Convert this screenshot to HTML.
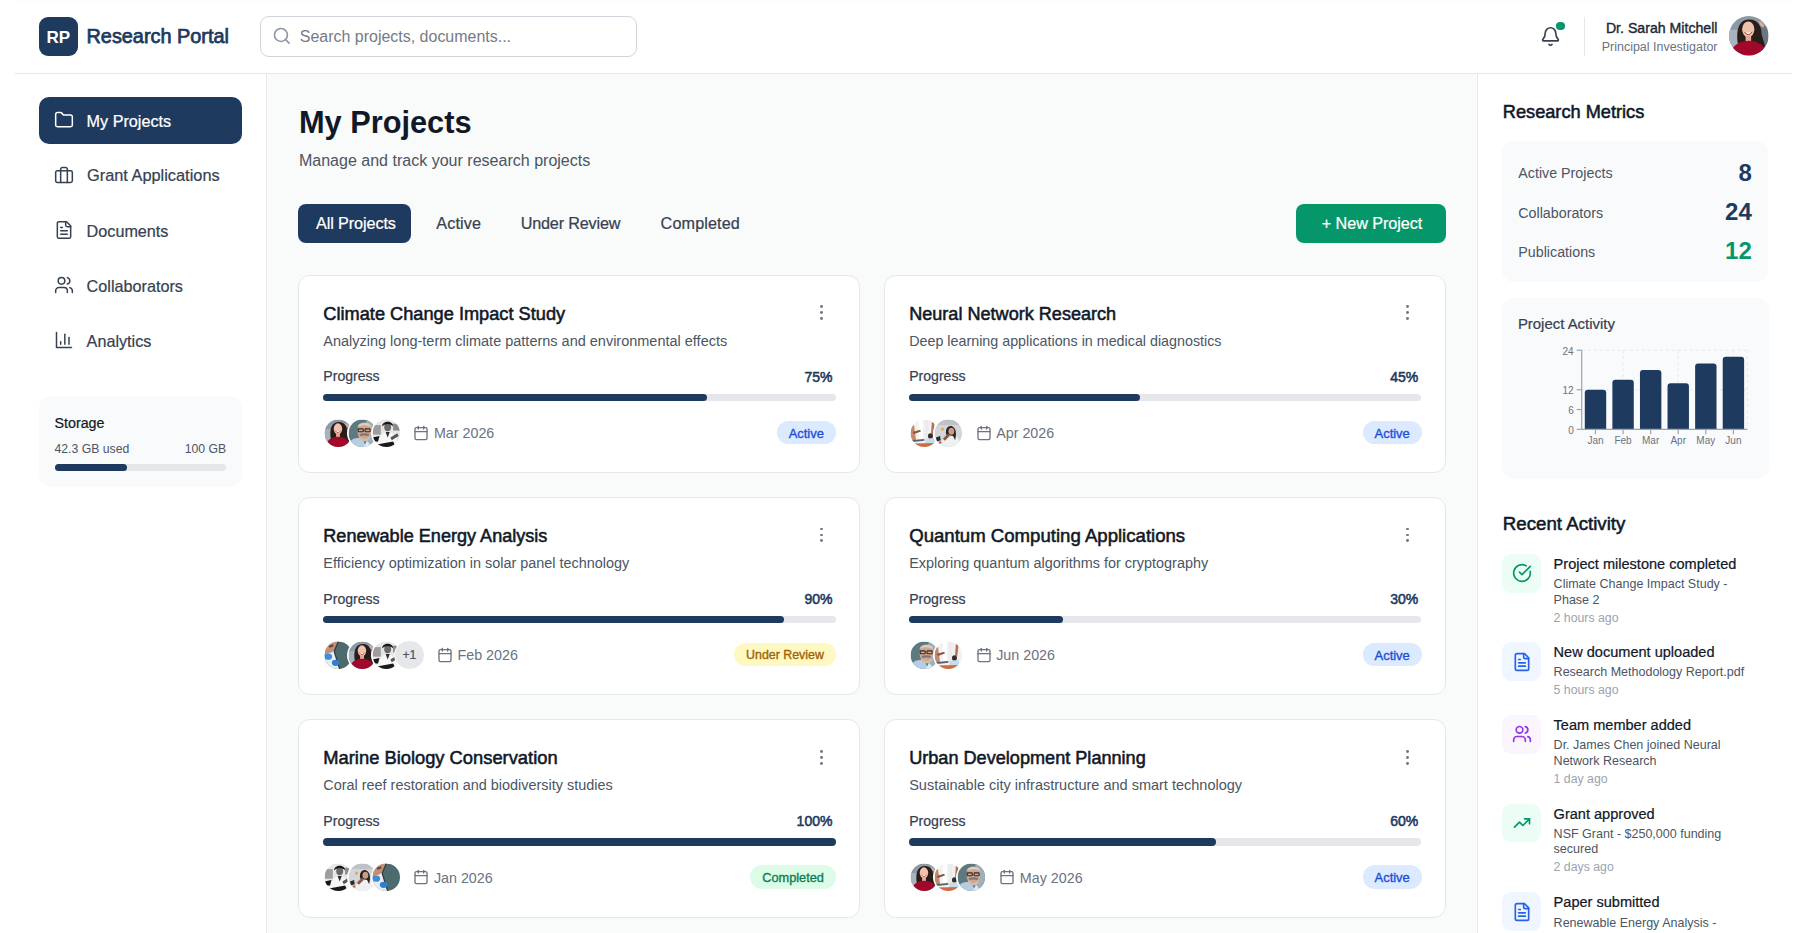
<!DOCTYPE html>
<html><head><meta charset="utf-8"><title>Research Portal</title>
<style>
html,body{margin:0;padding:0;width:1807px;height:933px;overflow:hidden;background:#fff;font-family:"Liberation Sans", sans-serif;}
.t{position:absolute;line-height:1;white-space:nowrap;font-family:"Liberation Sans", sans-serif;}
svg{overflow:visible}
</style></head><body>
<div style="position:absolute;left:267.00px;top:74.00px;width:1210.00px;height:859.00px;background:#f9fafa"></div>
<div style="position:absolute;left:15.00px;top:0.00px;width:1777.00px;height:1.00px;background-image:linear-gradient(90deg,#eef0f3 50%,transparent 50%);background-size:2px 1px;opacity:0.4"></div>
<div style="position:absolute;left:0.00px;top:73.00px;width:1807.00px;height:1.00px;"></div>
<div style="position:absolute;left:15.00px;top:73.00px;width:1777.00px;height:1.20px;background:#e5e7eb"></div>
<div style="position:absolute;left:266.00px;top:74.00px;width:1.20px;height:859.00px;background:#e5e7eb"></div>
<div style="position:absolute;left:1477.00px;top:74.00px;width:1.20px;height:859.00px;background:#e5e7eb"></div>
<div style="position:absolute;left:38.60px;top:16.70px;width:39.20px;height:39.30px;background:#1e3a5f;border-radius:9px"></div>
<div class="t" style="left:-441.80px;width:1000px;text-align:center;top:28.63px;font-size:17px;font-weight:700;color:#fff;">RP</div>
<div class="t" style="left:86.50px;top:27.21px;font-size:19.87px;font-weight:400;color:#1e3a5f;-webkit-text-stroke:0.75px #1e3a5f;">Research Portal</div>
<div style="position:absolute;left:260.00px;top:16.00px;width:377.00px;height:40.50px;border:1.2px solid #d1d5db;border-radius:9px;box-sizing:border-box;background:#fff"></div>
<svg style="position:absolute;left:271.6px;top:26.4px" width="19.5" height="19.5" viewBox="0 0 24 24" fill="none" stroke="#8d96a6" stroke-width="2" stroke-linecap="round"><circle cx="11" cy="11" r="8"/><path d="m21 21-4.3-4.3"/></svg>
<div class="t" style="left:299.80px;top:29.00px;font-size:15.98px;font-weight:400;color:#757b86;">Search projects, documents...</div>
<svg style="position:absolute;left:1540px;top:25.5px" width="21" height="21" viewBox="0 0 24 24" fill="none" stroke="#374151" stroke-width="1.9" stroke-linecap="round" stroke-linejoin="round"><path d="M10.268 21a2 2 0 0 0 3.464 0"/><path d="M3.262 15.326A1 1 0 0 0 4 17h16a1 1 0 0 0 .74-1.673C19.410 13.956 18 12.499 18 8A6 6 0 0 0 6 8c0 4.499-1.411 5.956-2.738 7.326"/></svg>
<div style="position:absolute;left:1556.40px;top:21.90px;width:8.20px;height:8.20px;background:#059669;border-radius:50%"></div>
<div style="position:absolute;left:1584.00px;top:17.00px;width:1.20px;height:38.60px;background:#e5e7eb"></div>
<div class="t" style="right:89.50px;top:21.44px;font-size:14.15px;font-weight:400;color:#1f2937;-webkit-text-stroke:0.4px #1f2937;">Dr. Sarah Mitchell</div>
<div class="t" style="right:89.50px;top:40.55px;font-size:12.48px;font-weight:400;color:#6b7280;">Principal Investigator</div>
<svg style="position:absolute;left:1728.95px;top:16.25px" width="39.50" height="39.50" viewBox="0.000 0.000 40.000 40.000"><clipPath id="av1"><circle cx="20" cy="20" r="20"/></clipPath><g clip-path="url(#av1)"><rect width="40" height="40" fill="#8e99a6"/><rect x="0" y="14" width="10" height="20" fill="#a9b3be"/><rect x="30" y="10" width="10" height="22" fill="#6b7582"/><path d="M9 28 C7 14 10 4 20 3.5 C29 3 33 10 33 18 C34 24 37 28 36 32 L28 30 L12 30Z" fill="#2a1d19"/><path d="M30 5 C34 6 36 9 35 12 L32 10Z" fill="#d8b09c"/><ellipse cx="19.5" cy="13.5" rx="6.2" ry="8" fill="#eec3ad"/><path d="M15.8 16.3 Q19.5 21 23.2 16.3 Q19.5 17.6 15.8 16.3Z" fill="#fff"/><path d="M15.5 16 Q19.5 22 23.5 16" fill="none" stroke="#a8343e" stroke-width="1"/><rect x="16.8" y="20" width="5.6" height="6" fill="#e3ab93"/><path d="M1 42 C2 31 8 25.5 19.5 25 C31 25.5 37 30 39 42Z" fill="#a1082a"/></g></svg>
<div style="position:absolute;left:38.50px;top:97.30px;width:203.30px;height:47.00px;background:#1e3a5f;border-radius:10px"></div>
<svg style="position:absolute;left:53.50px;top:110.00px" width="20" height="20" viewBox="0 0 24 24" fill="none" stroke="#fff" stroke-width="1.8" stroke-linecap="round" stroke-linejoin="round"><path d="M20 20a2 2 0 0 0 2-2V8a2 2 0 0 0-2-2h-7.9a2 2 0 0 1-1.69-.9L9.6 3.9A2 2 0 0 0 7.93 3H4a2 2 0 0 0-2 2v13a2 2 0 0 0 2 2Z"/></svg>
<div class="t" style="left:86.60px;top:112.81px;font-size:16.2px;font-weight:400;color:#fff;-webkit-text-stroke:0.22px #fff;">My Projects</div>
<svg style="position:absolute;left:53.50px;top:164.60px" width="20" height="20" viewBox="0 0 24 24" fill="none" stroke="#374151" stroke-width="1.8" stroke-linecap="round" stroke-linejoin="round"><rect x="2" y="7" width="20" height="14" rx="2"/><path d="M16 21V5a2 2 0 0 0-2-2h-4a2 2 0 0 0-2 2v16"/></svg>
<div class="t" style="left:87.00px;top:167.28px;font-size:16.35px;font-weight:400;color:#374151;-webkit-text-stroke:0.22px #374151;">Grant Applications</div>
<svg style="position:absolute;left:53.50px;top:220.00px" width="20" height="20" viewBox="0 0 24 24" fill="none" stroke="#374151" stroke-width="1.8" stroke-linecap="round" stroke-linejoin="round"><path d="M15 2H6a2 2 0 0 0-2 2v16a2 2 0 0 0 2 2h12a2 2 0 0 0 2-2V7Z"/><path d="M14 2v4a2 2 0 0 0 2 2h4"/><path d="M10 9H8"/><path d="M16 13H8"/><path d="M16 17H8"/></svg>
<div class="t" style="left:86.60px;top:222.81px;font-size:16.2px;font-weight:400;color:#374151;-webkit-text-stroke:0.22px #374151;">Documents</div>
<svg style="position:absolute;left:53.50px;top:275.20px" width="20" height="20" viewBox="0 0 24 24" fill="none" stroke="#374151" stroke-width="1.8" stroke-linecap="round" stroke-linejoin="round"><path d="M16 21v-2a4 4 0 0 0-4-4H6a4 4 0 0 0-4 4v2"/><circle cx="9" cy="7" r="4"/><path d="M22 21v-2a4 4 0 0 0-3-3.87"/><path d="M16 3.13a4 4 0 0 1 0 7.75"/></svg>
<div class="t" style="left:86.60px;top:278.01px;font-size:16.2px;font-weight:400;color:#374151;-webkit-text-stroke:0.22px #374151;">Collaborators</div>
<svg style="position:absolute;left:53.50px;top:330.20px" width="20" height="20" viewBox="0 0 24 24" fill="none" stroke="#374151" stroke-width="1.8" stroke-linecap="round" stroke-linejoin="round"><path d="M3 3v18h18"/><path d="M18 17V9"/><path d="M13 17V5"/><path d="M8 17v-3"/></svg>
<div class="t" style="left:86.60px;top:333.01px;font-size:16.2px;font-weight:400;color:#374151;-webkit-text-stroke:0.22px #374151;">Analytics</div>
<div style="position:absolute;left:39.20px;top:396.10px;width:202.70px;height:90.70px;background:#f9fafb;border-radius:12px"></div>
<div class="t" style="left:54.50px;top:416.13px;font-size:14.28px;font-weight:400;color:#111827;-webkit-text-stroke:0.22px #111827;">Storage</div>
<div class="t" style="left:54.50px;top:442.67px;font-size:12.23px;font-weight:400;color:#4b5563;">42.3 GB used</div>
<div class="t" style="right:1580.90px;top:442.67px;font-size:12.23px;font-weight:400;color:#4b5563;">100 GB</div>
<div style="position:absolute;left:54.50px;top:463.80px;width:171.60px;height:7.20px;background:#e5e7eb;border-radius:4px"></div>
<div style="position:absolute;left:54.50px;top:463.80px;width:72.60px;height:7.20px;background:#1e3a5f;border-radius:4px"></div>
<div class="t" style="left:298.90px;top:108.22px;font-size:30.75px;font-weight:700;color:#111827;">My Projects</div>
<div class="t" style="left:298.90px;top:151.94px;font-size:16.05px;font-weight:400;color:#4b5563;">Manage and track your research projects</div>
<div style="position:absolute;left:298.30px;top:203.60px;width:113.20px;height:39.00px;background:#1e3a5f;border-radius:8px"></div>
<div class="t" style="left:316.00px;top:214.91px;font-size:16.2px;font-weight:400;color:#fff;-webkit-text-stroke:0.22px #fff;letter-spacing:-0.094px">All Projects</div>
<div class="t" style="left:436.20px;top:214.91px;font-size:16.2px;font-weight:400;color:#374151;-webkit-text-stroke:0.22px #374151;letter-spacing:0.15px">Active</div>
<div class="t" style="left:520.70px;top:214.91px;font-size:16.2px;font-weight:400;color:#374151;-webkit-text-stroke:0.22px #374151;letter-spacing:-0.175px">Under Review</div>
<div class="t" style="left:660.60px;top:214.91px;font-size:16.2px;font-weight:400;color:#374151;-webkit-text-stroke:0.22px #374151;letter-spacing:0.12px">Completed</div>
<div style="position:absolute;left:1296.40px;top:203.60px;width:149.20px;height:39.00px;background:#059669;border-radius:8px"></div>
<div class="t" style="left:1321.70px;top:214.91px;font-size:16.2px;font-weight:400;color:#fff;-webkit-text-stroke:0.22px #fff;letter-spacing:-0.05px">+ New Project</div>
<div style="position:absolute;left:298.40px;top:274.60px;width:561.50px;height:198.60px;background:#fff;border:1.2px solid #e5e7eb;border-radius:12px;box-sizing:border-box"></div>
<div class="t" style="left:323.30px;top:304.60px;font-size:18.22px;font-weight:400;color:#111827;-webkit-text-stroke:0.55px #111827;">Climate Change Impact Study</div>
<div style="position:absolute;left:820.25px;top:305.25px;width:2.90px;height:2.90px;background:#727987;border-radius:50%"></div>
<div style="position:absolute;left:820.25px;top:311.25px;width:2.90px;height:2.90px;background:#727987;border-radius:50%"></div>
<div style="position:absolute;left:820.25px;top:317.05px;width:2.90px;height:2.90px;background:#727987;border-radius:50%"></div>
<div class="t" style="left:323.30px;top:333.56px;font-size:14.49px;font-weight:400;color:#4b5563;">Analyzing long-term climate patterns and environmental effects</div>
<div class="t" style="left:323.30px;top:369.29px;font-size:14.09px;font-weight:400;color:#374151;-webkit-text-stroke:0.22px #374151;">Progress</div>
<div class="t" style="right:974.60px;top:369.67px;font-size:14.0px;font-weight:400;color:#1e3a5f;-webkit-text-stroke:0.55px #1e3a5f;">75%</div>
<div style="position:absolute;left:322.90px;top:393.50px;width:512.70px;height:7.50px;background:#e5e7eb;border-radius:4px"></div>
<div style="position:absolute;left:322.90px;top:393.50px;width:384.52px;height:7.50px;background:#1e3a5f;border-radius:4px"></div>
<svg style="position:absolute;left:323.30px;top:417.50px" width="30.60" height="30.60" viewBox="-2.336 -2.336 44.672 44.672"><circle cx="20" cy="20" r="22.336" fill="#fff"/><clipPath id="av2"><circle cx="20" cy="20" r="20"/></clipPath><g clip-path="url(#av2)"><rect width="40" height="40" fill="#8e99a6"/><rect x="0" y="14" width="10" height="20" fill="#a9b3be"/><rect x="30" y="10" width="10" height="22" fill="#6b7582"/><path d="M9 28 C7 14 10 4 20 3.5 C29 3 33 10 33 18 C34 24 37 28 36 32 L28 30 L12 30Z" fill="#2a1d19"/><path d="M30 5 C34 6 36 9 35 12 L32 10Z" fill="#d8b09c"/><ellipse cx="19.5" cy="13.5" rx="6.2" ry="8" fill="#eec3ad"/><path d="M15.8 16.3 Q19.5 21 23.2 16.3 Q19.5 17.6 15.8 16.3Z" fill="#fff"/><path d="M15.5 16 Q19.5 22 23.5 16" fill="none" stroke="#a8343e" stroke-width="1"/><rect x="16.8" y="20" width="5.6" height="6" fill="#e3ab93"/><path d="M1 42 C2 31 8 25.5 19.5 25 C31 25.5 37 30 39 42Z" fill="#a1082a"/></g></svg>
<svg style="position:absolute;left:346.90px;top:417.50px" width="30.60" height="30.60" viewBox="-2.336 -2.336 44.672 44.672"><circle cx="20" cy="20" r="22.336" fill="#fff"/><clipPath id="av3"><circle cx="20" cy="20" r="20"/></clipPath><g clip-path="url(#av3)"><rect width="40" height="40" fill="#5c7a7f"/><rect x="26" y="0" width="14" height="40" fill="#9fb0b6"/><path d="M0 40 L4 30 C8 27 14 26 20 28 L26 40Z" fill="#b7cde3"/><ellipse cx="23" cy="17" rx="10" ry="12.5" fill="#d2a58e"/><path d="M13 12 C13 2 33 2 33 12 C31 7 15 7 13 12Z" fill="#e3cbbd"/><rect x="14" y="13.5" width="7.5" height="4.2" rx="1.2" fill="none" stroke="#2b2b2b" stroke-width="1.6"/><rect x="24" y="13.5" width="7.5" height="4.2" rx="1.2" fill="none" stroke="#2b2b2b" stroke-width="1.6"/><path d="M16 21 Q23 19 30 21 L29 24 Q23 22.5 17 24Z" fill="#7d7873"/><path d="M15 24 Q23 33 31 24 L31 28 Q23 36 15 28Z" fill="#cbbfb5"/><path d="M22 40 L27 31 L34 40Z" fill="#dfe9f2"/></g></svg>
<svg style="position:absolute;left:370.50px;top:417.50px" width="30.60" height="30.60" viewBox="-2.336 -2.336 44.672 44.672"><circle cx="20" cy="20" r="22.336" fill="#fff"/><clipPath id="av4"><circle cx="20" cy="20" r="20"/></clipPath><g clip-path="url(#av4)"><rect width="40" height="40" fill="#e6e6e6"/><rect x="0" y="8" width="12" height="14" fill="#9d9d9d"/><rect x="30" y="6" width="10" height="10" fill="#8a8a8a"/><path d="M6 40 C8 26 14 18 22 18 C30 18 36 26 38 40Z" fill="#f7f7f7"/><ellipse cx="22" cy="11" rx="5" ry="6" fill="#6a6a6a"/><path d="M14 10 C14 1 30 1 30 10 C27 5 17 5 14 10Z" fill="#161616"/><path d="M19 18 L22 26 L25 18Z" fill="#2a2a2a"/><path d="M0 26 L10 24 L8 32 L0 32Z" fill="#151515"/><path d="M8 36 L30 32 L34 40 L6 40Z" fill="#1a1a1a"/><path d="M26 26 L36 20 L38 24 L28 30Z" fill="#555"/></g></svg>
<svg style="position:absolute;left:413.40px;top:424.80px" width="16" height="16" viewBox="0 0 24 24" fill="none" stroke="#6b7280" stroke-width="2" stroke-linecap="round" stroke-linejoin="round"><rect x="3" y="4" width="18" height="18" rx="2"/><path d="M16 2v4"/><path d="M8 2v4"/><path d="M3 10h18"/></svg>
<div class="t" style="left:433.90px;top:426.17px;font-size:14.3px;font-weight:400;color:#6b7280;">Mar 2026</div>
<div class="t" style="right:971.30px;top:420.60px;height:23.4px;line-height:25px;padding:0 11.8px;border-radius:12px;background:#dbeafe;font-size:12.96px;color:#1d4ed8;-webkit-text-stroke:0.35px #1d4ed8">Active</div>
<div style="position:absolute;left:884.30px;top:274.60px;width:561.50px;height:198.60px;background:#fff;border:1.2px solid #e5e7eb;border-radius:12px;box-sizing:border-box"></div>
<div class="t" style="left:909.20px;top:304.72px;font-size:18.08px;font-weight:400;color:#111827;-webkit-text-stroke:0.55px #111827;">Neural Network Research</div>
<div style="position:absolute;left:1406.15px;top:305.25px;width:2.90px;height:2.90px;background:#727987;border-radius:50%"></div>
<div style="position:absolute;left:1406.15px;top:311.25px;width:2.90px;height:2.90px;background:#727987;border-radius:50%"></div>
<div style="position:absolute;left:1406.15px;top:317.05px;width:2.90px;height:2.90px;background:#727987;border-radius:50%"></div>
<div class="t" style="left:909.20px;top:333.72px;font-size:14.3px;font-weight:400;color:#4b5563;">Deep learning applications in medical diagnostics</div>
<div class="t" style="left:909.20px;top:369.29px;font-size:14.09px;font-weight:400;color:#374151;-webkit-text-stroke:0.22px #374151;">Progress</div>
<div class="t" style="right:388.70px;top:369.67px;font-size:14.0px;font-weight:400;color:#1e3a5f;-webkit-text-stroke:0.55px #1e3a5f;">45%</div>
<div style="position:absolute;left:908.80px;top:393.50px;width:512.70px;height:7.50px;background:#e5e7eb;border-radius:4px"></div>
<div style="position:absolute;left:908.80px;top:393.50px;width:230.72px;height:7.50px;background:#1e3a5f;border-radius:4px"></div>
<svg style="position:absolute;left:909.20px;top:417.50px" width="30.60" height="30.60" viewBox="-2.336 -2.336 44.672 44.672"><circle cx="20" cy="20" r="22.336" fill="#fff"/><clipPath id="av5"><circle cx="20" cy="20" r="20"/></clipPath><g clip-path="url(#av5)"><rect width="40" height="40" fill="#f3f1ef"/><rect x="12" y="0" width="6" height="28" fill="#ffffff"/><rect x="21" y="0" width="5" height="28" fill="#e9ecef"/><path d="M0 10 L5 8 L8 30 L0 32Z" fill="#c08a70"/><path d="M31 3 L35 5 L33 22 L30 20Z" fill="#b07256"/><path d="M3 18 L14 15 L15 17.5 L5 21Z" fill="#8a5444"/><ellipse cx="29" cy="24" rx="3.6" ry="4.2" fill="#3a2a24"/><path d="M22 28 L35 27 L37 36 L21 36Z" fill="#c4dcec"/><path d="M0 30 L20 28.5 L20 31 L0 33Z" fill="#56626e"/><path d="M0 35 L40 34 L40 40 L0 40Z" fill="#cf6a44"/></g></svg>
<svg style="position:absolute;left:932.80px;top:417.50px" width="30.60" height="30.60" viewBox="-2.336 -2.336 44.672 44.672"><circle cx="20" cy="20" r="22.336" fill="#fff"/><clipPath id="av6"><circle cx="20" cy="20" r="20"/></clipPath><g clip-path="url(#av6)"><rect width="40" height="40" fill="#d3d6d9"/><rect x="0" y="0" width="40" height="8" fill="#bfc2c5"/><path d="M8 40 C10 28 16 22 24 22 C32 22 37 28 38 40Z" fill="#eef0f2"/><path d="M17 22 C15 12 21 8 26 10 C32 13 32 22 30 30 L27 24Z" fill="#2a221e"/><ellipse cx="24.5" cy="17" rx="4.2" ry="5.2" fill="#c99d86"/><path d="M12 28 L20 20 L22 24 L15 31Z" fill="#8a5a48"/><rect x="10" y="12" width="3" height="4" fill="#e39a3a"/><path d="M2 26 L8 24 L9 30 L3 32Z" fill="#2b2b2b"/><rect x="6" y="32" width="4" height="3" fill="#d0643a"/></g></svg>
<svg style="position:absolute;left:975.70px;top:424.80px" width="16" height="16" viewBox="0 0 24 24" fill="none" stroke="#6b7280" stroke-width="2" stroke-linecap="round" stroke-linejoin="round"><rect x="3" y="4" width="18" height="18" rx="2"/><path d="M16 2v4"/><path d="M8 2v4"/><path d="M3 10h18"/></svg>
<div class="t" style="left:996.20px;top:426.17px;font-size:14.3px;font-weight:400;color:#6b7280;">Apr 2026</div>
<div class="t" style="right:385.40px;top:420.60px;height:23.4px;line-height:25px;padding:0 11.8px;border-radius:12px;background:#dbeafe;font-size:12.96px;color:#1d4ed8;-webkit-text-stroke:0.35px #1d4ed8">Active</div>
<div style="position:absolute;left:298.40px;top:496.90px;width:561.50px;height:198.60px;background:#fff;border:1.2px solid #e5e7eb;border-radius:12px;box-sizing:border-box"></div>
<div class="t" style="left:323.30px;top:527.01px;font-size:18.09px;font-weight:400;color:#111827;-webkit-text-stroke:0.55px #111827;">Renewable Energy Analysis</div>
<div style="position:absolute;left:820.25px;top:527.55px;width:2.90px;height:2.90px;background:#727987;border-radius:50%"></div>
<div style="position:absolute;left:820.25px;top:533.55px;width:2.90px;height:2.90px;background:#727987;border-radius:50%"></div>
<div style="position:absolute;left:820.25px;top:539.35px;width:2.90px;height:2.90px;background:#727987;border-radius:50%"></div>
<div class="t" style="left:323.30px;top:555.91px;font-size:14.43px;font-weight:400;color:#4b5563;">Efficiency optimization in solar panel technology</div>
<div class="t" style="left:323.30px;top:591.59px;font-size:14.09px;font-weight:400;color:#374151;-webkit-text-stroke:0.22px #374151;">Progress</div>
<div class="t" style="right:974.60px;top:591.97px;font-size:14.0px;font-weight:400;color:#1e3a5f;-webkit-text-stroke:0.55px #1e3a5f;">90%</div>
<div style="position:absolute;left:322.90px;top:615.80px;width:512.70px;height:7.50px;background:#e5e7eb;border-radius:4px"></div>
<div style="position:absolute;left:322.90px;top:615.80px;width:461.43px;height:7.50px;background:#1e3a5f;border-radius:4px"></div>
<svg style="position:absolute;left:323.30px;top:639.80px" width="30.60" height="30.60" viewBox="-2.336 -2.336 44.672 44.672"><circle cx="20" cy="20" r="22.336" fill="#fff"/><clipPath id="av7"><circle cx="20" cy="20" r="20"/></clipPath><g clip-path="url(#av7)"><rect width="40" height="40" fill="#4d6a6d"/><path d="M0 0 L20 0 L14 14 L22 40 L0 40Z" fill="#e8eef2"/><path d="M0 0 L20 0 L16 10 C12 16 6 18 0 18Z" fill="#c48f74"/><path d="M6 6 L12 4 L13 7 L7 9Z" fill="#5a4a40"/><path d="M19 0 L21 0 L15 14 L23 40 L21 40 L13 14Z" fill="#2c3e48"/><ellipse cx="5" cy="22" rx="6" ry="4.5" fill="#3c8ed8"/><ellipse cx="16" cy="31" rx="5.5" ry="4.5" fill="#2f80cf"/></g></svg>
<svg style="position:absolute;left:346.90px;top:639.80px" width="30.60" height="30.60" viewBox="-2.336 -2.336 44.672 44.672"><circle cx="20" cy="20" r="22.336" fill="#fff"/><clipPath id="av8"><circle cx="20" cy="20" r="20"/></clipPath><g clip-path="url(#av8)"><rect width="40" height="40" fill="#8e99a6"/><rect x="0" y="14" width="10" height="20" fill="#a9b3be"/><rect x="30" y="10" width="10" height="22" fill="#6b7582"/><path d="M9 28 C7 14 10 4 20 3.5 C29 3 33 10 33 18 C34 24 37 28 36 32 L28 30 L12 30Z" fill="#2a1d19"/><path d="M30 5 C34 6 36 9 35 12 L32 10Z" fill="#d8b09c"/><ellipse cx="19.5" cy="13.5" rx="6.2" ry="8" fill="#eec3ad"/><path d="M15.8 16.3 Q19.5 21 23.2 16.3 Q19.5 17.6 15.8 16.3Z" fill="#fff"/><path d="M15.5 16 Q19.5 22 23.5 16" fill="none" stroke="#a8343e" stroke-width="1"/><rect x="16.8" y="20" width="5.6" height="6" fill="#e3ab93"/><path d="M1 42 C2 31 8 25.5 19.5 25 C31 25.5 37 30 39 42Z" fill="#a1082a"/></g></svg>
<svg style="position:absolute;left:370.50px;top:639.80px" width="30.60" height="30.60" viewBox="-2.336 -2.336 44.672 44.672"><circle cx="20" cy="20" r="22.336" fill="#fff"/><clipPath id="av9"><circle cx="20" cy="20" r="20"/></clipPath><g clip-path="url(#av9)"><rect width="40" height="40" fill="#e6e6e6"/><rect x="0" y="8" width="12" height="14" fill="#9d9d9d"/><rect x="30" y="6" width="10" height="10" fill="#8a8a8a"/><path d="M6 40 C8 26 14 18 22 18 C30 18 36 26 38 40Z" fill="#f7f7f7"/><ellipse cx="22" cy="11" rx="5" ry="6" fill="#6a6a6a"/><path d="M14 10 C14 1 30 1 30 10 C27 5 17 5 14 10Z" fill="#161616"/><path d="M19 18 L22 26 L25 18Z" fill="#2a2a2a"/><path d="M0 26 L10 24 L8 32 L0 32Z" fill="#151515"/><path d="M8 36 L30 32 L34 40 L6 40Z" fill="#1a1a1a"/><path d="M26 26 L36 20 L38 24 L28 30Z" fill="#555"/></g></svg>
<div style="position:absolute;left:394.10px;top:639.80px;width:30.60px;height:30.60px;background:#e5e7eb;border-radius:50%;border:1.6px solid #fff;box-sizing:border-box"></div>
<div class="t" style="left:-90.60px;width:1000px;text-align:center;top:649.19px;font-size:12.2px;font-weight:400;color:#4b5563;-webkit-text-stroke:0.22px #4b5563;">+1</div>
<svg style="position:absolute;left:437.00px;top:647.10px" width="16" height="16" viewBox="0 0 24 24" fill="none" stroke="#6b7280" stroke-width="2" stroke-linecap="round" stroke-linejoin="round"><rect x="3" y="4" width="18" height="18" rx="2"/><path d="M16 2v4"/><path d="M8 2v4"/><path d="M3 10h18"/></svg>
<div class="t" style="left:457.50px;top:648.47px;font-size:14.3px;font-weight:400;color:#6b7280;">Feb 2026</div>
<div class="t" style="right:971.30px;top:642.90px;height:23.4px;line-height:25px;padding:0 11.8px;border-radius:12px;background:#fef9c3;font-size:12.4px;color:#a16207;-webkit-text-stroke:0.35px #a16207">Under Review</div>
<div style="position:absolute;left:884.30px;top:496.90px;width:561.50px;height:198.60px;background:#fff;border:1.2px solid #e5e7eb;border-radius:12px;box-sizing:border-box"></div>
<div class="t" style="left:909.20px;top:526.58px;font-size:18.6px;font-weight:400;color:#111827;-webkit-text-stroke:0.55px #111827;">Quantum Computing Applications</div>
<div style="position:absolute;left:1406.15px;top:527.55px;width:2.90px;height:2.90px;background:#727987;border-radius:50%"></div>
<div style="position:absolute;left:1406.15px;top:533.55px;width:2.90px;height:2.90px;background:#727987;border-radius:50%"></div>
<div style="position:absolute;left:1406.15px;top:539.35px;width:2.90px;height:2.90px;background:#727987;border-radius:50%"></div>
<div class="t" style="left:909.20px;top:555.91px;font-size:14.43px;font-weight:400;color:#4b5563;">Exploring quantum algorithms for cryptography</div>
<div class="t" style="left:909.20px;top:591.59px;font-size:14.09px;font-weight:400;color:#374151;-webkit-text-stroke:0.22px #374151;">Progress</div>
<div class="t" style="right:388.70px;top:591.97px;font-size:14.0px;font-weight:400;color:#1e3a5f;-webkit-text-stroke:0.55px #1e3a5f;">30%</div>
<div style="position:absolute;left:908.80px;top:615.80px;width:512.70px;height:7.50px;background:#e5e7eb;border-radius:4px"></div>
<div style="position:absolute;left:908.80px;top:615.80px;width:153.81px;height:7.50px;background:#1e3a5f;border-radius:4px"></div>
<svg style="position:absolute;left:909.20px;top:639.80px" width="30.60" height="30.60" viewBox="-2.336 -2.336 44.672 44.672"><circle cx="20" cy="20" r="22.336" fill="#fff"/><clipPath id="av10"><circle cx="20" cy="20" r="20"/></clipPath><g clip-path="url(#av10)"><rect width="40" height="40" fill="#5c7a7f"/><rect x="26" y="0" width="14" height="40" fill="#9fb0b6"/><path d="M0 40 L4 30 C8 27 14 26 20 28 L26 40Z" fill="#b7cde3"/><ellipse cx="23" cy="17" rx="10" ry="12.5" fill="#d2a58e"/><path d="M13 12 C13 2 33 2 33 12 C31 7 15 7 13 12Z" fill="#e3cbbd"/><rect x="14" y="13.5" width="7.5" height="4.2" rx="1.2" fill="none" stroke="#2b2b2b" stroke-width="1.6"/><rect x="24" y="13.5" width="7.5" height="4.2" rx="1.2" fill="none" stroke="#2b2b2b" stroke-width="1.6"/><path d="M16 21 Q23 19 30 21 L29 24 Q23 22.5 17 24Z" fill="#7d7873"/><path d="M15 24 Q23 33 31 24 L31 28 Q23 36 15 28Z" fill="#cbbfb5"/><path d="M22 40 L27 31 L34 40Z" fill="#dfe9f2"/></g></svg>
<svg style="position:absolute;left:932.80px;top:639.80px" width="30.60" height="30.60" viewBox="-2.336 -2.336 44.672 44.672"><circle cx="20" cy="20" r="22.336" fill="#fff"/><clipPath id="av11"><circle cx="20" cy="20" r="20"/></clipPath><g clip-path="url(#av11)"><rect width="40" height="40" fill="#f3f1ef"/><rect x="12" y="0" width="6" height="28" fill="#ffffff"/><rect x="21" y="0" width="5" height="28" fill="#e9ecef"/><path d="M0 10 L5 8 L8 30 L0 32Z" fill="#c08a70"/><path d="M31 3 L35 5 L33 22 L30 20Z" fill="#b07256"/><path d="M3 18 L14 15 L15 17.5 L5 21Z" fill="#8a5444"/><ellipse cx="29" cy="24" rx="3.6" ry="4.2" fill="#3a2a24"/><path d="M22 28 L35 27 L37 36 L21 36Z" fill="#c4dcec"/><path d="M0 30 L20 28.5 L20 31 L0 33Z" fill="#56626e"/><path d="M0 35 L40 34 L40 40 L0 40Z" fill="#cf6a44"/></g></svg>
<svg style="position:absolute;left:975.70px;top:647.10px" width="16" height="16" viewBox="0 0 24 24" fill="none" stroke="#6b7280" stroke-width="2" stroke-linecap="round" stroke-linejoin="round"><rect x="3" y="4" width="18" height="18" rx="2"/><path d="M16 2v4"/><path d="M8 2v4"/><path d="M3 10h18"/></svg>
<div class="t" style="left:996.20px;top:648.47px;font-size:14.3px;font-weight:400;color:#6b7280;">Jun 2026</div>
<div class="t" style="right:385.40px;top:642.90px;height:23.4px;line-height:25px;padding:0 11.8px;border-radius:12px;background:#dbeafe;font-size:12.96px;color:#1d4ed8;-webkit-text-stroke:0.35px #1d4ed8">Active</div>
<div style="position:absolute;left:298.40px;top:719.20px;width:561.50px;height:198.60px;background:#fff;border:1.2px solid #e5e7eb;border-radius:12px;box-sizing:border-box"></div>
<div class="t" style="left:323.30px;top:749.11px;font-size:18.33px;font-weight:400;color:#111827;-webkit-text-stroke:0.55px #111827;">Marine Biology Conservation</div>
<div style="position:absolute;left:820.25px;top:749.85px;width:2.90px;height:2.90px;background:#727987;border-radius:50%"></div>
<div style="position:absolute;left:820.25px;top:755.85px;width:2.90px;height:2.90px;background:#727987;border-radius:50%"></div>
<div style="position:absolute;left:820.25px;top:761.65px;width:2.90px;height:2.90px;background:#727987;border-radius:50%"></div>
<div class="t" style="left:323.30px;top:778.21px;font-size:14.43px;font-weight:400;color:#4b5563;">Coral reef restoration and biodiversity studies</div>
<div class="t" style="left:323.30px;top:813.89px;font-size:14.09px;font-weight:400;color:#374151;-webkit-text-stroke:0.22px #374151;">Progress</div>
<div class="t" style="right:974.60px;top:814.27px;font-size:14.0px;font-weight:400;color:#1e3a5f;-webkit-text-stroke:0.55px #1e3a5f;">100%</div>
<div style="position:absolute;left:322.90px;top:838.10px;width:512.70px;height:7.50px;background:#e5e7eb;border-radius:4px"></div>
<div style="position:absolute;left:322.90px;top:838.10px;width:512.70px;height:7.50px;background:#1e3a5f;border-radius:4px"></div>
<svg style="position:absolute;left:323.30px;top:862.10px" width="30.60" height="30.60" viewBox="-2.336 -2.336 44.672 44.672"><circle cx="20" cy="20" r="22.336" fill="#fff"/><clipPath id="av12"><circle cx="20" cy="20" r="20"/></clipPath><g clip-path="url(#av12)"><rect width="40" height="40" fill="#e6e6e6"/><rect x="0" y="8" width="12" height="14" fill="#9d9d9d"/><rect x="30" y="6" width="10" height="10" fill="#8a8a8a"/><path d="M6 40 C8 26 14 18 22 18 C30 18 36 26 38 40Z" fill="#f7f7f7"/><ellipse cx="22" cy="11" rx="5" ry="6" fill="#6a6a6a"/><path d="M14 10 C14 1 30 1 30 10 C27 5 17 5 14 10Z" fill="#161616"/><path d="M19 18 L22 26 L25 18Z" fill="#2a2a2a"/><path d="M0 26 L10 24 L8 32 L0 32Z" fill="#151515"/><path d="M8 36 L30 32 L34 40 L6 40Z" fill="#1a1a1a"/><path d="M26 26 L36 20 L38 24 L28 30Z" fill="#555"/></g></svg>
<svg style="position:absolute;left:346.90px;top:862.10px" width="30.60" height="30.60" viewBox="-2.336 -2.336 44.672 44.672"><circle cx="20" cy="20" r="22.336" fill="#fff"/><clipPath id="av13"><circle cx="20" cy="20" r="20"/></clipPath><g clip-path="url(#av13)"><rect width="40" height="40" fill="#d3d6d9"/><rect x="0" y="0" width="40" height="8" fill="#bfc2c5"/><path d="M8 40 C10 28 16 22 24 22 C32 22 37 28 38 40Z" fill="#eef0f2"/><path d="M17 22 C15 12 21 8 26 10 C32 13 32 22 30 30 L27 24Z" fill="#2a221e"/><ellipse cx="24.5" cy="17" rx="4.2" ry="5.2" fill="#c99d86"/><path d="M12 28 L20 20 L22 24 L15 31Z" fill="#8a5a48"/><rect x="10" y="12" width="3" height="4" fill="#e39a3a"/><path d="M2 26 L8 24 L9 30 L3 32Z" fill="#2b2b2b"/><rect x="6" y="32" width="4" height="3" fill="#d0643a"/></g></svg>
<svg style="position:absolute;left:370.50px;top:862.10px" width="30.60" height="30.60" viewBox="-2.336 -2.336 44.672 44.672"><circle cx="20" cy="20" r="22.336" fill="#fff"/><clipPath id="av14"><circle cx="20" cy="20" r="20"/></clipPath><g clip-path="url(#av14)"><rect width="40" height="40" fill="#4d6a6d"/><path d="M0 0 L20 0 L14 14 L22 40 L0 40Z" fill="#e8eef2"/><path d="M0 0 L20 0 L16 10 C12 16 6 18 0 18Z" fill="#c48f74"/><path d="M6 6 L12 4 L13 7 L7 9Z" fill="#5a4a40"/><path d="M19 0 L21 0 L15 14 L23 40 L21 40 L13 14Z" fill="#2c3e48"/><ellipse cx="5" cy="22" rx="6" ry="4.5" fill="#3c8ed8"/><ellipse cx="16" cy="31" rx="5.5" ry="4.5" fill="#2f80cf"/></g></svg>
<svg style="position:absolute;left:413.40px;top:869.40px" width="16" height="16" viewBox="0 0 24 24" fill="none" stroke="#6b7280" stroke-width="2" stroke-linecap="round" stroke-linejoin="round"><rect x="3" y="4" width="18" height="18" rx="2"/><path d="M16 2v4"/><path d="M8 2v4"/><path d="M3 10h18"/></svg>
<div class="t" style="left:433.90px;top:870.77px;font-size:14.3px;font-weight:400;color:#6b7280;">Jan 2026</div>
<div class="t" style="right:971.30px;top:865.20px;height:23.4px;line-height:25px;padding:0 11.8px;border-radius:12px;background:#dcfce7;font-size:12.76px;color:#0a7f55;-webkit-text-stroke:0.35px #0a7f55">Completed</div>
<div style="position:absolute;left:884.30px;top:719.20px;width:561.50px;height:198.60px;background:#fff;border:1.2px solid #e5e7eb;border-radius:12px;box-sizing:border-box"></div>
<div class="t" style="left:909.20px;top:749.28px;font-size:18.13px;font-weight:400;color:#111827;-webkit-text-stroke:0.55px #111827;">Urban Development Planning</div>
<div style="position:absolute;left:1406.15px;top:749.85px;width:2.90px;height:2.90px;background:#727987;border-radius:50%"></div>
<div style="position:absolute;left:1406.15px;top:755.85px;width:2.90px;height:2.90px;background:#727987;border-radius:50%"></div>
<div style="position:absolute;left:1406.15px;top:761.65px;width:2.90px;height:2.90px;background:#727987;border-radius:50%"></div>
<div class="t" style="left:909.20px;top:778.15px;font-size:14.5px;font-weight:400;color:#4b5563;">Sustainable city infrastructure and smart technology</div>
<div class="t" style="left:909.20px;top:813.89px;font-size:14.09px;font-weight:400;color:#374151;-webkit-text-stroke:0.22px #374151;">Progress</div>
<div class="t" style="right:388.70px;top:814.27px;font-size:14.0px;font-weight:400;color:#1e3a5f;-webkit-text-stroke:0.55px #1e3a5f;">60%</div>
<div style="position:absolute;left:908.80px;top:838.10px;width:512.70px;height:7.50px;background:#e5e7eb;border-radius:4px"></div>
<div style="position:absolute;left:908.80px;top:838.10px;width:307.62px;height:7.50px;background:#1e3a5f;border-radius:4px"></div>
<svg style="position:absolute;left:909.20px;top:862.10px" width="30.60" height="30.60" viewBox="-2.336 -2.336 44.672 44.672"><circle cx="20" cy="20" r="22.336" fill="#fff"/><clipPath id="av15"><circle cx="20" cy="20" r="20"/></clipPath><g clip-path="url(#av15)"><rect width="40" height="40" fill="#8e99a6"/><rect x="0" y="14" width="10" height="20" fill="#a9b3be"/><rect x="30" y="10" width="10" height="22" fill="#6b7582"/><path d="M9 28 C7 14 10 4 20 3.5 C29 3 33 10 33 18 C34 24 37 28 36 32 L28 30 L12 30Z" fill="#2a1d19"/><path d="M30 5 C34 6 36 9 35 12 L32 10Z" fill="#d8b09c"/><ellipse cx="19.5" cy="13.5" rx="6.2" ry="8" fill="#eec3ad"/><path d="M15.8 16.3 Q19.5 21 23.2 16.3 Q19.5 17.6 15.8 16.3Z" fill="#fff"/><path d="M15.5 16 Q19.5 22 23.5 16" fill="none" stroke="#a8343e" stroke-width="1"/><rect x="16.8" y="20" width="5.6" height="6" fill="#e3ab93"/><path d="M1 42 C2 31 8 25.5 19.5 25 C31 25.5 37 30 39 42Z" fill="#a1082a"/></g></svg>
<svg style="position:absolute;left:932.80px;top:862.10px" width="30.60" height="30.60" viewBox="-2.336 -2.336 44.672 44.672"><circle cx="20" cy="20" r="22.336" fill="#fff"/><clipPath id="av16"><circle cx="20" cy="20" r="20"/></clipPath><g clip-path="url(#av16)"><rect width="40" height="40" fill="#f3f1ef"/><rect x="12" y="0" width="6" height="28" fill="#ffffff"/><rect x="21" y="0" width="5" height="28" fill="#e9ecef"/><path d="M0 10 L5 8 L8 30 L0 32Z" fill="#c08a70"/><path d="M31 3 L35 5 L33 22 L30 20Z" fill="#b07256"/><path d="M3 18 L14 15 L15 17.5 L5 21Z" fill="#8a5444"/><ellipse cx="29" cy="24" rx="3.6" ry="4.2" fill="#3a2a24"/><path d="M22 28 L35 27 L37 36 L21 36Z" fill="#c4dcec"/><path d="M0 30 L20 28.5 L20 31 L0 33Z" fill="#56626e"/><path d="M0 35 L40 34 L40 40 L0 40Z" fill="#cf6a44"/></g></svg>
<svg style="position:absolute;left:956.40px;top:862.10px" width="30.60" height="30.60" viewBox="-2.336 -2.336 44.672 44.672"><circle cx="20" cy="20" r="22.336" fill="#fff"/><clipPath id="av17"><circle cx="20" cy="20" r="20"/></clipPath><g clip-path="url(#av17)"><rect width="40" height="40" fill="#5c7a7f"/><rect x="26" y="0" width="14" height="40" fill="#9fb0b6"/><path d="M0 40 L4 30 C8 27 14 26 20 28 L26 40Z" fill="#b7cde3"/><ellipse cx="23" cy="17" rx="10" ry="12.5" fill="#d2a58e"/><path d="M13 12 C13 2 33 2 33 12 C31 7 15 7 13 12Z" fill="#e3cbbd"/><rect x="14" y="13.5" width="7.5" height="4.2" rx="1.2" fill="none" stroke="#2b2b2b" stroke-width="1.6"/><rect x="24" y="13.5" width="7.5" height="4.2" rx="1.2" fill="none" stroke="#2b2b2b" stroke-width="1.6"/><path d="M16 21 Q23 19 30 21 L29 24 Q23 22.5 17 24Z" fill="#7d7873"/><path d="M15 24 Q23 33 31 24 L31 28 Q23 36 15 28Z" fill="#cbbfb5"/><path d="M22 40 L27 31 L34 40Z" fill="#dfe9f2"/></g></svg>
<svg style="position:absolute;left:999.30px;top:869.40px" width="16" height="16" viewBox="0 0 24 24" fill="none" stroke="#6b7280" stroke-width="2" stroke-linecap="round" stroke-linejoin="round"><rect x="3" y="4" width="18" height="18" rx="2"/><path d="M16 2v4"/><path d="M8 2v4"/><path d="M3 10h18"/></svg>
<div class="t" style="left:1019.80px;top:870.77px;font-size:14.3px;font-weight:400;color:#6b7280;">May 2026</div>
<div class="t" style="right:385.40px;top:865.20px;height:23.4px;line-height:25px;padding:0 11.8px;border-radius:12px;background:#dbeafe;font-size:12.96px;color:#1d4ed8;-webkit-text-stroke:0.35px #1d4ed8">Active</div>
<div class="t" style="left:1502.80px;top:102.63px;font-size:18.19px;font-weight:400;color:#111827;-webkit-text-stroke:0.55px #111827;">Research Metrics</div>
<div style="position:absolute;left:1502.30px;top:140.80px;width:265.30px;height:141.50px;background:#f9fafb;border-radius:12px"></div>
<div class="t" style="left:1518.30px;top:165.94px;font-size:14.27px;font-weight:400;color:#4b5563;">Active Projects</div>
<div class="t" style="right:55.20px;top:160.72px;font-size:24px;font-weight:700;color:#1e3a5f;">8</div>
<div class="t" style="left:1518.30px;top:206.04px;font-size:14.27px;font-weight:400;color:#4b5563;">Collaborators</div>
<div class="t" style="right:55.20px;top:200.02px;font-size:24px;font-weight:700;color:#1e3a5f;">24</div>
<div class="t" style="left:1518.30px;top:245.44px;font-size:14.27px;font-weight:400;color:#4b5563;">Publications</div>
<div class="t" style="right:55.20px;top:239.42px;font-size:24px;font-weight:700;color:#059669;">12</div>
<div style="position:absolute;left:1502.40px;top:298.10px;width:266.20px;height:180.50px;background:#f9fafb;border-radius:12px"></div>
<div class="t" style="left:1517.90px;top:317.08px;font-size:14.93px;font-weight:400;color:#374151;-webkit-text-stroke:0.22px #374151;">Project Activity</div>
<svg style="position:absolute;left:1500px;top:330px" width="270" height="130" viewBox="1500 330 270 130"><line x1="1581.7" x2="1747.2" y1="350.2" y2="350.2" stroke="#e5e7eb" stroke-dasharray="3 3"/><line x1="1581.7" x2="1747.2" y1="389.75" y2="389.75" stroke="#e5e7eb" stroke-dasharray="3 3"/><line x1="1623.075" x2="1623.075" y1="350.2" y2="429.3" stroke="#e5e7eb" stroke-dasharray="3 3"/><line x1="1678.2416666666668" x2="1678.2416666666668" y1="350.2" y2="429.3" stroke="#e5e7eb" stroke-dasharray="3 3"/><line x1="1733.4083333333333" x2="1733.4083333333333" y1="350.2" y2="429.3" stroke="#e5e7eb" stroke-dasharray="3 3"/><line x1="1747.2" x2="1747.2" y1="350.2" y2="429.3" stroke="#e5e7eb" stroke-dasharray="3 3"/><path d="M1584.7916666666667 429.3 V392.75 Q1584.7916666666667 389.75 1587.7916666666667 389.75 H1603.1916666666668 Q1606.1916666666668 389.75 1606.1916666666668 392.75 V429.3 Z" fill="#1e3a5f"/><path d="M1612.375 429.3 V382.8625 Q1612.375 379.8625 1615.375 379.8625 H1630.775 Q1633.775 379.8625 1633.775 382.8625 V429.3 Z" fill="#1e3a5f"/><path d="M1639.9583333333333 429.3 V372.975 Q1639.9583333333333 369.975 1642.9583333333333 369.975 H1658.3583333333333 Q1661.3583333333333 369.975 1661.3583333333333 372.975 V429.3 Z" fill="#1e3a5f"/><path d="M1667.5416666666667 429.3 V386.1583333333333 Q1667.5416666666667 383.1583333333333 1670.5416666666667 383.1583333333333 H1685.9416666666668 Q1688.9416666666668 383.1583333333333 1688.9416666666668 386.1583333333333 V429.3 Z" fill="#1e3a5f"/><path d="M1695.125 429.3 V366.3833333333333 Q1695.125 363.3833333333333 1698.125 363.3833333333333 H1713.525 Q1716.525 363.3833333333333 1716.525 366.3833333333333 V429.3 Z" fill="#1e3a5f"/><path d="M1722.7083333333333 429.3 V359.79166666666663 Q1722.7083333333333 356.79166666666663 1725.7083333333333 356.79166666666663 H1741.1083333333333 Q1744.1083333333333 356.79166666666663 1744.1083333333333 359.79166666666663 V429.3 Z" fill="#1e3a5f"/><line x1="1581.7" x2="1581.7" y1="350.2" y2="429.3" stroke="#9ca3af" stroke-width="1.2"/><line x1="1581.7" x2="1747.2" y1="429.3" y2="429.3" stroke="#9ca3af" stroke-width="1.2"/><line x1="1576.7" x2="1581.7" y1="429.3" y2="429.3" stroke="#9ca3af" stroke-width="1.2"/><text x="1573.7" y="433.6" text-anchor="end" font-size="10" fill="#6b7280" font-family="Liberation Sans">0</text><line x1="1576.7" x2="1581.7" y1="409.525" y2="409.525" stroke="#9ca3af" stroke-width="1.2"/><text x="1573.7" y="413.825" text-anchor="end" font-size="10" fill="#6b7280" font-family="Liberation Sans">6</text><line x1="1576.7" x2="1581.7" y1="389.75" y2="389.75" stroke="#9ca3af" stroke-width="1.2"/><text x="1573.7" y="394.05" text-anchor="end" font-size="10" fill="#6b7280" font-family="Liberation Sans">12</text><line x1="1576.7" x2="1581.7" y1="350.2" y2="350.2" stroke="#9ca3af" stroke-width="1.2"/><text x="1573.7" y="354.5" text-anchor="end" font-size="10" fill="#6b7280" font-family="Liberation Sans">24</text><line x1="1595.4916666666668" x2="1595.4916666666668" y1="429.3" y2="434.3" stroke="#9ca3af" stroke-width="1.2"/><text x="1595.4916666666668" y="444.3" text-anchor="middle" font-size="10" fill="#6b7280" font-family="Liberation Sans">Jan</text><line x1="1623.075" x2="1623.075" y1="429.3" y2="434.3" stroke="#9ca3af" stroke-width="1.2"/><text x="1623.075" y="444.3" text-anchor="middle" font-size="10" fill="#6b7280" font-family="Liberation Sans">Feb</text><line x1="1650.6583333333333" x2="1650.6583333333333" y1="429.3" y2="434.3" stroke="#9ca3af" stroke-width="1.2"/><text x="1650.6583333333333" y="444.3" text-anchor="middle" font-size="10" fill="#6b7280" font-family="Liberation Sans">Mar</text><line x1="1678.2416666666668" x2="1678.2416666666668" y1="429.3" y2="434.3" stroke="#9ca3af" stroke-width="1.2"/><text x="1678.2416666666668" y="444.3" text-anchor="middle" font-size="10" fill="#6b7280" font-family="Liberation Sans">Apr</text><line x1="1705.825" x2="1705.825" y1="429.3" y2="434.3" stroke="#9ca3af" stroke-width="1.2"/><text x="1705.825" y="444.3" text-anchor="middle" font-size="10" fill="#6b7280" font-family="Liberation Sans">May</text><line x1="1733.4083333333333" x2="1733.4083333333333" y1="429.3" y2="434.3" stroke="#9ca3af" stroke-width="1.2"/><text x="1733.4083333333333" y="444.3" text-anchor="middle" font-size="10" fill="#6b7280" font-family="Liberation Sans">Jun</text></svg>
<div class="t" style="left:1502.80px;top:515.30px;font-size:18.7px;font-weight:400;color:#111827;-webkit-text-stroke:0.55px #111827;">Recent Activity</div>
<div style="position:absolute;left:1502.40px;top:553.80px;width:38.60px;height:38.80px;background:#ecfdf5;border-radius:9px"></div>
<svg style="position:absolute;left:1511.70px;top:563.20px" width="20" height="20" viewBox="0 0 24 24" fill="none" stroke="#059669" stroke-width="2" stroke-linecap="round" stroke-linejoin="round"><path d="M21.801 10A10 10 0 1 1 17 3.335"/><path d="m9 11 3 3L22 4"/></svg>
<div class="t" style="left:1553.60px;top:556.80px;font-size:14.56px;font-weight:400;color:#111827;-webkit-text-stroke:0.22px #111827;">Project milestone completed</div>
<div class="t" style="left:1553.60px;top:578.02px;font-size:12.52px;font-weight:400;color:#4b5563;">Climate Change Impact Study -</div>
<div class="t" style="left:1553.60px;top:593.52px;font-size:12.52px;font-weight:400;color:#4b5563;">Phase 2</div>
<div class="t" style="left:1553.60px;top:611.51px;font-size:12.3px;font-weight:400;color:#9ca3af;">2 hours ago</div>
<div style="position:absolute;left:1502.40px;top:642.20px;width:38.60px;height:38.80px;background:#eff6ff;border-radius:9px"></div>
<svg style="position:absolute;left:1511.70px;top:651.60px" width="20" height="20" viewBox="0 0 24 24" fill="none" stroke="#2563eb" stroke-width="2" stroke-linecap="round" stroke-linejoin="round"><path d="M15 2H6a2 2 0 0 0-2 2v16a2 2 0 0 0 2 2h12a2 2 0 0 0 2-2V7Z"/><path d="M14 2v4a2 2 0 0 0 2 2h4"/><path d="M10 9H8"/><path d="M16 13H8"/><path d="M16 17H8"/></svg>
<div class="t" style="left:1553.60px;top:645.20px;font-size:14.56px;font-weight:400;color:#111827;-webkit-text-stroke:0.22px #111827;">New document uploaded</div>
<div class="t" style="left:1553.60px;top:666.42px;font-size:12.52px;font-weight:400;color:#4b5563;">Research Methodology Report.pdf</div>
<div class="t" style="left:1553.60px;top:684.41px;font-size:12.3px;font-weight:400;color:#9ca3af;">5 hours ago</div>
<div style="position:absolute;left:1502.40px;top:715.00px;width:38.60px;height:38.80px;background:#faf5ff;border-radius:9px"></div>
<svg style="position:absolute;left:1511.70px;top:724.40px" width="20" height="20" viewBox="0 0 24 24" fill="none" stroke="#9333ea" stroke-width="2" stroke-linecap="round" stroke-linejoin="round"><path d="M16 21v-2a4 4 0 0 0-4-4H6a4 4 0 0 0-4 4v2"/><circle cx="9" cy="7" r="4"/><path d="M22 21v-2a4 4 0 0 0-3-3.87"/><path d="M16 3.13a4 4 0 0 1 0 7.75"/></svg>
<div class="t" style="left:1553.60px;top:718.00px;font-size:14.56px;font-weight:400;color:#111827;-webkit-text-stroke:0.22px #111827;">Team member added</div>
<div class="t" style="left:1553.60px;top:739.22px;font-size:12.52px;font-weight:400;color:#4b5563;">Dr. James Chen joined Neural</div>
<div class="t" style="left:1553.60px;top:754.72px;font-size:12.52px;font-weight:400;color:#4b5563;">Network Research</div>
<div class="t" style="left:1553.60px;top:772.71px;font-size:12.3px;font-weight:400;color:#9ca3af;">1 day ago</div>
<div style="position:absolute;left:1502.40px;top:803.70px;width:38.60px;height:38.80px;background:#ecfdf5;border-radius:9px"></div>
<svg style="position:absolute;left:1511.70px;top:813.10px" width="20" height="20" viewBox="0 0 24 24" fill="none" stroke="#059669" stroke-width="2" stroke-linecap="round" stroke-linejoin="round"><path d="m3 17 6-6 4 4 8-8"/><path d="M15 7h6v6"/></svg>
<div class="t" style="left:1553.60px;top:806.70px;font-size:14.56px;font-weight:400;color:#111827;-webkit-text-stroke:0.22px #111827;">Grant approved</div>
<div class="t" style="left:1553.60px;top:827.92px;font-size:12.52px;font-weight:400;color:#4b5563;">NSF Grant - $250,000 funding</div>
<div class="t" style="left:1553.60px;top:843.42px;font-size:12.52px;font-weight:400;color:#4b5563;">secured</div>
<div class="t" style="left:1553.60px;top:861.41px;font-size:12.3px;font-weight:400;color:#9ca3af;">2 days ago</div>
<div style="position:absolute;left:1502.40px;top:892.40px;width:38.60px;height:38.80px;background:#eff6ff;border-radius:9px"></div>
<svg style="position:absolute;left:1511.70px;top:901.80px" width="20" height="20" viewBox="0 0 24 24" fill="none" stroke="#2563eb" stroke-width="2" stroke-linecap="round" stroke-linejoin="round"><path d="M15 2H6a2 2 0 0 0-2 2v16a2 2 0 0 0 2 2h12a2 2 0 0 0 2-2V7Z"/><path d="M14 2v4a2 2 0 0 0 2 2h4"/><path d="M10 9H8"/><path d="M16 13H8"/><path d="M16 17H8"/></svg>
<div class="t" style="left:1553.60px;top:895.40px;font-size:14.56px;font-weight:400;color:#111827;-webkit-text-stroke:0.22px #111827;">Paper submitted</div>
<div class="t" style="left:1553.60px;top:916.62px;font-size:12.52px;font-weight:400;color:#4b5563;">Renewable Energy Analysis -</div>
<div class="t" style="left:1553.60px;top:932.12px;font-size:12.52px;font-weight:400;color:#4b5563;">Phase 1</div>
<div class="t" style="left:1553.60px;top:950.11px;font-size:12.3px;font-weight:400;color:#9ca3af;">3 days ago</div>
</body></html>
